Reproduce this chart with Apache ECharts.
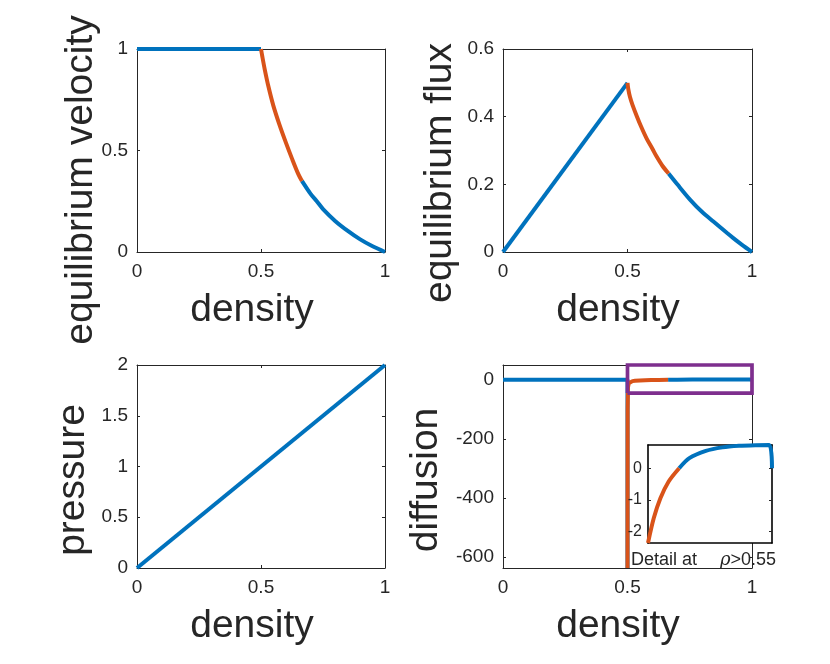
<!DOCTYPE html>
<html>
<head>
<meta charset="utf-8">
<script src="https://cdn.jsdelivr.net/npm/echarts@6/dist/echarts.min.js"></script>
<style>
html, body { margin: 0; padding: 0; background: #fff; }
#main { width: 830px; height: 664px; }
</style>
</head>
<body>
<div id="main"></div>
<script>
// 各面板数据：[密度, 数值]，按颜色分段
var velFree = [[0, 1], [0.5, 1]];
var velUnstable = [[0.5, 1], [0.505, 0.965], [0.515, 0.9], [0.53, 0.815], [0.55, 0.72], [0.575, 0.625],
    [0.6, 0.54], [0.625, 0.46], [0.65, 0.385], [0.665, 0.35]];
var velStable = [[0.665, 0.35], [0.7, 0.286], [0.725, 0.25], [0.751, 0.21], [0.8, 0.152], [0.85, 0.104],
    [0.9, 0.062], [0.95, 0.028], [1, 0]];

var fluxFree = [[0, 0], [0.5, 0.5]];
var fluxUnstable = [[0.5, 0.5], [0.503, 0.482], [0.51, 0.458], [0.52, 0.435], [0.537, 0.402], [0.555, 0.37],
    [0.577, 0.335], [0.6, 0.305], [0.617, 0.282], [0.64, 0.255], [0.665, 0.232]];
var fluxStable = [[0.665, 0.232], [0.7, 0.2], [0.751, 0.155], [0.8, 0.118], [0.845, 0.09], [0.9, 0.056],
    [0.925, 0.041], [0.96, 0.021], [1, 0]];

var pressure = [[0, 0], [1, 2]];

var diffFree = [[0, 0], [0.5, 0], [0.5, -638]];
var diffUnstable = [[0.5, -638], [0.5005, -100], [0.502, -25], [0.505, -12], [0.51, -7.5], [0.52, -4.6],
    [0.53, -3.5], [0.55, -2.37], [0.571, -1.58], [0.595, -0.95], [0.625, -0.42], [0.663, 0]];
var diffStable = [[0.663, 0], [0.7, 0.32], [0.76, 0.55], [0.82, 0.66], [0.88, 0.71], [0.94, 0.73],
    [0.99, 0.735], [1, 0]];

// 紫色框（放大区域）
var zoomBox = [[0.5, -45], [0.5, 50], [1, 50], [1, -45], [0.5, -45]];

var diffTicks = [-600, -400, -200, 0];
var insetTicks = [-2, -1, 0];
var insetStart = 0.55;

var FONT = '"Liberation Sans", Arial, Helvetica, sans-serif';
var INK = '#262626';
var BLUE = '#0072BD';
var ORANGE = '#D95319';
var PURPLE = '#7E2F8E';

var grids = [
    { left: 137, top: 49, width: 248, height: 203 },
    { left: 503, top: 49, width: 249, height: 203 },
    { left: 137, top: 365, width: 248, height: 203 },
    { left: 503, top: 365, width: 249, height: 203 },
    { left: 648, top: 445, width: 124, height: 98, z: 5, show: true, backgroundColor: '#fff', borderWidth: 0 }
];

var xAxes = [];
var yAxes = [];

/**
 * 生成一个坐标轴（MATLAB 风格：刻度朝内，四周封闭）
 */
function makeAxis(gridIndex, position, min, max, interval, showLabel, custom, z) {
    var ax = {
        type: 'value',
        gridIndex: gridIndex,
        position: position,
        min: min,
        max: max,
        z: z || 0,
        axisLine: { show: true, onZero: false, lineStyle: { color: INK, width: 1 } },
        axisTick: { show: true, inside: true, length: 3, lineStyle: { color: INK, width: 1 } },
        axisLabel: { show: showLabel, color: INK, fontSize: 19, fontFamily: FONT, margin: position == 'bottom' ? 10 : 9 },
        splitLine: { show: false }
    };
    if (interval) ax.interval = interval;
    if (custom) {
        ax.axisLabel.customValues = custom;
        ax.axisTick.customValues = custom;
    }
    return ax;
}

var yRanges = [[0, 1, 0.5], [0, 0.6, 0.2], [0, 2, 0.5], [-638, 50, null]];
for (var i = 0; i < 4; i++) {
    xAxes.push(makeAxis(i, 'bottom', 0, 1, 0.5, true));
    xAxes.push(makeAxis(i, 'top', 0, 1, 0.5, false));
    var r = yRanges[i];
    var cv = i == 3 ? diffTicks : null;
    yAxes.push(makeAxis(i, 'left', r[0], r[1], r[2], true, cv));
    yAxes.push(makeAxis(i, 'right', r[0], r[1], r[2], false, cv));
}

// 小图坐标轴
['bottom', 'top'].forEach(function (p) {
    var ax = makeAxis(4, p, insetStart, 1, null, false, null, 6);
    ax.axisTick.show = false;
    ax.axisLine.lineStyle = { color: '#000', width: 1.6 };
    xAxes.push(ax);
});
['left', 'right'].forEach(function (p) {
    var ax = makeAxis(4, p, -2.37, 0.735, null, p == 'left', insetTicks, 6);
    ax.axisLine.lineStyle = { color: '#000', width: 1.6 };
    ax.axisLabel.fontSize = 16;
    ax.axisLabel.margin = 6;
    yAxes.push(ax);
});

function line(data, color, idx, z, smooth) {
    return {
        type: 'line',
        data: data,
        xAxisIndex: idx,
        yAxisIndex: idx,
        symbol: 'none',
        clip: false,
        z: z || 2,
        smooth: smooth || false,
        lineStyle: { color: color, width: 4 },
        silent: true
    };
}

function tail(arr) {
    return arr.filter(function (p) { return p[0] >= insetStart; });
}

var series = [
    line(velFree, BLUE, 0), line(velStable, BLUE, 0, 2, 0.3), line(velUnstable, ORANGE, 0, 2, 0.3),
    line(fluxFree, BLUE, 2), line(fluxStable, BLUE, 2, 2, 0.3), line(fluxUnstable, ORANGE, 2, 2, 0.3),
    line(pressure, BLUE, 4),
    line(diffFree, BLUE, 6), line(diffStable, BLUE, 6), line(diffUnstable, ORANGE, 6),
    line(zoomBox, PURPLE, 6, 3),
    line(tail(diffStable), BLUE, 8, 7, 0.3), line(tail(diffUnstable), ORANGE, 8, 7, 0.3)
];
series[10].lineStyle.width = 3.7;
series[10].lineStyle.join = 'miter';

function label(text, x, y, vertical) {
    return {
        type: 'text',
        x: x,
        y: y,
        rotation: vertical ? Math.PI / 2 : 0,
        z: 10,
        style: { text: text, fill: INK, font: '39px ' + FONT, align: 'center', verticalAlign: 'middle' }
    };
}

var graphics = [
    label('equilibrium velocity', 81, 180, true),
    label('equilibrium flux', 440, 173, true),
    label('pressure', 73, 480, true),
    label('diffusion', 426, 480, true),
    label('density', 252, 310),
    label('density', 618, 310),
    label('density', 252, 626),
    label('density', 618, 626),
    {
        type: 'text', x: 631, y: 560, z: 10,
        style: { text: 'Detail at', fill: INK, font: '18px ' + FONT, align: 'left', verticalAlign: 'middle' }
    },
    {
        type: 'text', x: 720, y: 560, z: 10,
        style: {
            text: '{r|ρ}>0.55', fill: INK, font: '18px ' + FONT, align: 'left', verticalAlign: 'middle',
            rich: { r: { fontStyle: 'italic', fontFamily: '"DejaVu Serif", serif', fontSize: 18, fill: INK } }
        }
    }
];

var myChart = echarts.init(document.getElementById('main'));
myChart.setOption({
    animation: false,
    backgroundColor: '#fff',
    grid: grids,
    xAxis: xAxes,
    yAxis: yAxes,
    series: series,
    graphic: graphics
});
</script>
</body>
</html>
